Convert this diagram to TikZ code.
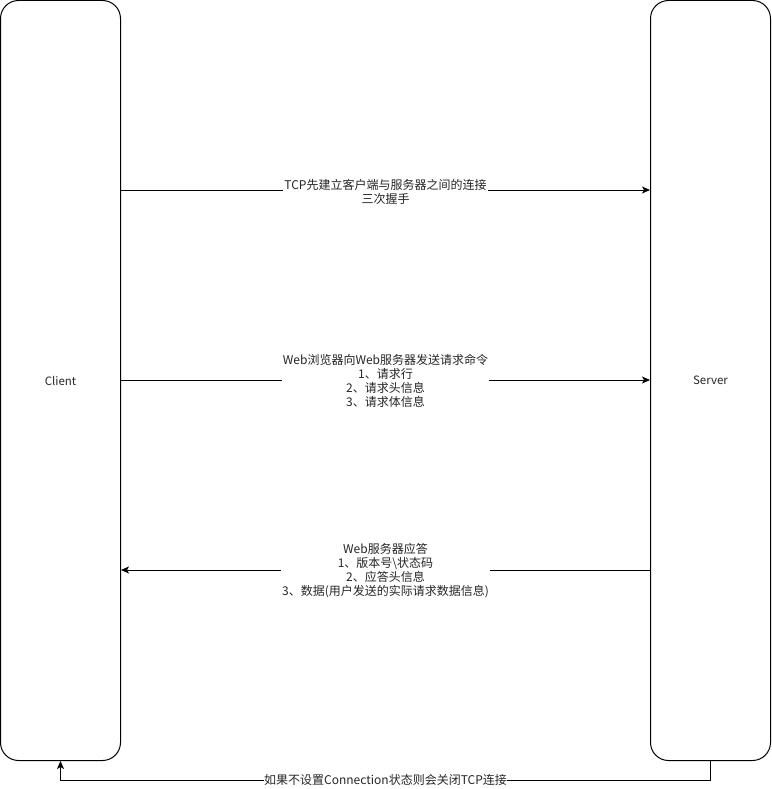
\documentclass[tikz,border=0pt]{standalone}
\usepackage{fontspec}
\setmainfont{Noto Sans CJK SC}
\usetikzlibrary{arrows.meta}
\begin{document}
\begin{tikzpicture}[x=1pt,y=-1pt,
  lifebox/.style={draw=black,line width=1pt,rounded corners=18pt,minimum width=120pt,minimum height=760pt,inner sep=0pt,font=\fontsize{11.5}{14}\selectfont,text=black!85},
  msg/.style={draw=black,line width=1pt,-{Stealth[length=8pt,width=7pt,inset=2pt]}},
  lbl/.style={fill=white,inner sep=1pt,align=center,font=\fontsize{12}{14}\selectfont,text=black!85}]
\useasboundingbox (0,0) rectangle (771,789);
\node[lifebox] (client) at (60.5,380.5) {Client};
\node[lifebox] (server) at (710.5,380.5) {Server};
\coordinate (c1) at (client.east |- 0,190);
\coordinate (s1) at (server.west |- 0,190);
\coordinate (c2) at (client.east |- 0,380);
\coordinate (s2) at (server.west |- 0,380);
\coordinate (c3) at (client.east |- 0,570);
\coordinate (s3) at (server.west |- 0,570);
\draw[msg] (c1) -- node[lbl,yshift=-1.5pt] (l1) {TCP先建立客户端与服务器之间的连接\\三次握手} (s1);
\draw[msg] (c2) -- node[lbl,yshift=-0.5pt] (l2) {Web浏览器向Web服务器发送请求命令\\1、请求行\\2、请求头信息\\3、请求体信息} (s2);
\draw[msg] (s3) -- node[lbl,yshift=-1pt] (l3) {Web服务器应答\\1、版本号\textbackslash 状态码\\2、应答头信息\\3、数据(用户发送的实际请求数据信息)} (c3);
\coordinate (b1) at (710.5,780);
\coordinate (b2) at (60.5,780);
\draw[msg] (server.south) -- (b1) -- node[lbl,inner sep=0.5pt] (l4) {如果不设置Connection状态则会关闭TCP连接} (b2) -- (client.south);
\end{tikzpicture}
\end{document}
